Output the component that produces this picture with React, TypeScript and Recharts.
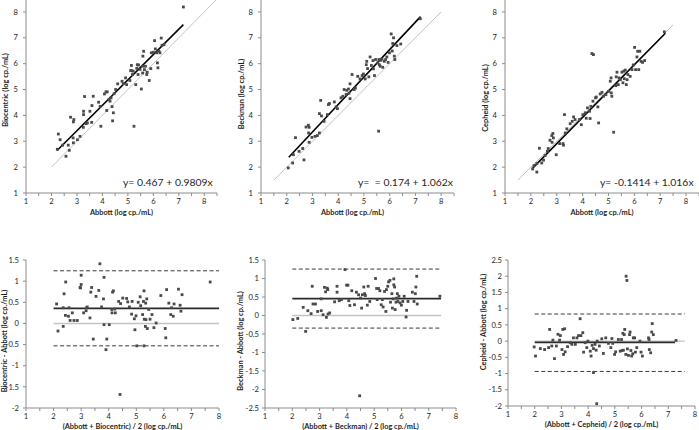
import React from 'react';
import { ScatterChart, Scatter, XAxis, YAxis, ReferenceLine } from 'recharts';

type Pt = [number, number];

const FONT = 'Lato, "Open Sans", Arial, sans-serif';

// top row: Abbott (x) against the other assay (y), log cp./mL
const biocentricVsAbbott: Pt[] = [
  [2.27, 3.28], [2.34, 3.06], [2.23, 2.69], [2.44, 2.85], [2.57, 2.42], [2.66, 2.85], [2.7, 2.65],
  [2.75, 3.93], [2.86, 3.75], [2.88, 3.84], [2.85, 3.13], [2.86, 2.94], [3.02, 3.06], [3.12, 3.19],
  [3.3, 4.73], [3.26, 4.16], [3.26, 4.03], [3.36, 3.68], [3.25, 3.54], [3.41, 3.71], [3.51, 4.16],
  [3.59, 4.38], [3.64, 4.74], [3.58, 3.73], [3.85, 4.51], [3.94, 3.58], [3.91, 4.35], [4.08, 4.83],
  [4.14, 4.91], [4.19, 4.91], [4.17, 4.19], [4.26, 4.61], [4.3, 4.55], [4.34, 4.68], [4.38, 4.34],
  [4.4, 3.79], [4.43, 4.1], [4.46, 4.84], [4.52, 5.0], [4.6, 5.22], [4.77, 5.32], [4.82, 5.23],
  [4.91, 5.45], [4.95, 5.19], [5.08, 5.35], [5.11, 5.73], [5.14, 5.93], [5.15, 5.73], [5.18, 5.58],
  [5.21, 5.71], [5.24, 3.58], [5.31, 5.19], [5.35, 5.82], [5.37, 5.96], [5.42, 5.95], [5.4, 5.58],
  [5.48, 5.78], [5.53, 5.02], [5.58, 5.64], [5.58, 5.9], [5.62, 6.48], [5.59, 6.29], [5.65, 5.77],
  [5.69, 5.9], [5.74, 5.58], [5.76, 5.67], [5.84, 5.35], [5.9, 5.81], [5.92, 6.42], [6.0, 6.44],
  [6.05, 6.89], [6.08, 6.57], [6.13, 6.42], [6.16, 6.03], [6.18, 5.84], [6.22, 6.48], [6.26, 6.42],
  [6.31, 6.99], [6.34, 6.71], [6.42, 6.74], [7.18, 8.19],
];

const beckmanVsAbbott: Pt[] = [
  [2.06, 1.97], [2.23, 2.16], [2.34, 3.14], [2.26, 2.48], [2.48, 2.61], [2.67, 2.28], [2.62, 2.72],
  [2.75, 3.55], [2.84, 3.62], [2.87, 3.54], [2.85, 3.32], [2.87, 2.96], [2.98, 3.15], [3.1, 3.19],
  [3.19, 3.22], [3.27, 3.32], [3.27, 4.07], [3.32, 4.58], [3.35, 3.98], [3.45, 3.77], [3.58, 4.03],
  [3.62, 4.42], [3.66, 4.46], [3.85, 4.52], [3.92, 4.33], [3.97, 4.26], [4.11, 4.68], [4.18, 4.74],
  [4.23, 5.0], [4.31, 4.81], [4.33, 4.97], [4.4, 5.02], [4.42, 4.86], [4.46, 5.22], [4.46, 4.65],
  [4.54, 5.58], [4.62, 5.0], [4.67, 5.06], [4.76, 5.51], [4.85, 5.41], [4.93, 5.54], [4.98, 5.6],
  [5.05, 5.41], [5.09, 5.96], [5.11, 6.09], [5.14, 5.81], [5.19, 5.49], [5.24, 6.26], [5.29, 5.93],
  [5.35, 6.12], [5.37, 5.8], [5.41, 5.54], [5.45, 6.16], [5.57, 3.39], [5.54, 6.03], [5.58, 6.16],
  [5.6, 5.96], [5.63, 5.9], [5.66, 6.13], [5.7, 6.18], [5.73, 5.86], [5.79, 6.09], [5.84, 6.16],
  [5.89, 6.26], [5.94, 6.05], [5.99, 6.42], [6.06, 7.15], [6.1, 6.49], [6.12, 6.78], [6.15, 7.0],
  [6.18, 6.29], [6.2, 6.16], [6.28, 6.7], [6.43, 6.76], [7.19, 7.74],
];

const cepheidVsAbbott: Pt[] = [
  [2.07, 1.93], [2.12, 2.06], [2.23, 1.81], [2.23, 2.14], [2.33, 2.73], [2.42, 2.16], [2.49, 2.27],
  [2.55, 2.45], [2.64, 2.61], [2.67, 2.72], [2.74, 3.04], [2.81, 3.22], [2.85, 3.3], [2.87, 3.13],
  [2.82, 2.96], [2.98, 2.48], [3.11, 2.91], [3.24, 2.91], [3.26, 2.85], [3.3, 4.03], [3.33, 3.32],
  [3.39, 3.48], [3.52, 3.68], [3.6, 3.77], [3.65, 3.94], [3.71, 3.84], [3.88, 3.84], [3.95, 3.64],
  [4.01, 4.03], [4.1, 4.1], [4.14, 3.89], [4.19, 4.29], [4.27, 4.16], [4.29, 3.88], [4.32, 4.35],
  [4.36, 6.39], [4.42, 6.35], [4.4, 4.55], [4.5, 4.68], [4.53, 4.71], [4.59, 4.33], [4.62, 3.71],
  [4.68, 4.83], [4.75, 4.89], [4.81, 4.74], [4.9, 4.8], [5.01, 4.93], [5.07, 5.32], [5.1, 5.45],
  [5.11, 4.87], [5.13, 4.74], [5.2, 3.35], [5.28, 5.15], [5.3, 5.49], [5.33, 5.67], [5.38, 5.19],
  [5.41, 5.45], [5.46, 5.38], [5.52, 5.67], [5.56, 5.26], [5.59, 5.71], [5.61, 5.42], [5.65, 5.75],
  [5.69, 5.19], [5.72, 5.38], [5.75, 5.58], [5.84, 5.51], [5.91, 5.77], [5.96, 5.95], [6.01, 6.63],
  [6.05, 5.77], [6.1, 6.26], [6.13, 6.48], [6.17, 5.77], [6.21, 6.48], [6.26, 6.09], [6.32, 6.05],
  [6.4, 6.12], [7.16, 7.23],
];

// regression [intercept, slope] and the x span it is drawn over
const fitBiocentric = [0.467, 0.9809];
const fitBeckman = [0.174, 1.062];
const fitCepheid = [-0.1414, 1.016];
const fitSpanBiocentric = [2.22, 7.18];
const fitSpanBeckman = [2.08, 7.2];
const fitSpanCepheid = [2.07, 7.2];
// line of identity span
const identityBiocentric = [2, 8.5];
const identityBeckman = [1.5, 8];
const identityCepheid = [1.5, 7.5];

// bottom row: Bland-Altman, mean of both assays (x) vs difference (y)
const diffBiocentric: Pt[] = [
  [2.11, 0.46], [2.16, -0.18], [2.35, -0.07], [2.35, 0.37], [2.38, 0.7], [2.44, 0.98], [2.43, 0.19],
  [2.54, 0.17], [2.56, 0.37], [2.6, 0.07], [2.68, 0.25], [2.74, 0.07], [2.86, 0.07], [2.96, 0.85],
  [3.0, 0.92], [3.0, 1.14], [2.98, 0.84], [3.09, 0.25], [3.18, 0.3], [3.2, 0.37], [3.22, 0.39],
  [3.32, 0.13], [3.35, 0.74], [3.38, 0.85], [3.44, -0.37], [3.54, 0.64], [3.64, 0.78], [3.68, 1.41],
  [3.74, 0.39], [3.81, 0.58], [3.83, 1.09], [3.83, -0.03], [3.9, -0.62], [3.93, -0.37], [4.02, -0.03],
  [4.11, 0.33], [4.12, 0.25], [4.14, 0.74], [4.17, 0.77], [4.22, 0.34], [4.24, 0.25], [4.41, -1.68],
  [4.36, 0.52], [4.43, 0.47], [4.51, 0.6], [4.65, 0.59], [4.69, 0.51], [4.75, 0.39], [4.83, 0.22],
  [4.85, 0.52], [4.93, 0.11], [4.95, -0.15], [4.99, 0.18], [5.02, -0.53], [5.07, 0.5], [5.14, 0.63],
  [5.16, 0.42], [5.23, 0.21], [5.26, 0.52], [5.28, 0.77], [5.29, 0.1], [5.34, 0.48], [5.38, 0.58],
  [5.28, -0.53], [5.33, -0.07], [5.35, 0.09], [5.4, -0.12], [5.45, 0.33], [5.5, 0.1], [5.57, 0.21],
  [5.64, -0.1], [5.72, 0.01], [5.89, 0.66], [6.05, -0.12], [6.07, -0.34], [6.1, 0.8], [6.18, 0.48],
  [6.25, 0.21], [6.28, 0.37], [6.34, 0.17], [6.37, 0.46], [6.53, 0.81], [6.59, 0.43], [6.62, 0.29],
  [6.66, 0.68], [7.68, 0.98],
];

const diffBeckman: Pt[] = [
  [2.02, -0.11], [2.2, -0.08], [2.4, 0.22], [2.49, -0.43], [2.57, 0.13], [2.69, 0.05], [2.73, 0.79],
  [2.76, 0.31], [2.85, 0.31], [2.93, 0.11], [3.06, 0.13], [3.06, 0.45], [3.13, 0.02], [3.18, 0.76],
  [3.22, 0.64], [3.25, -0.05], [3.28, 0.74], [3.3, 0.7], [3.31, 0.04], [3.37, 0.07], [3.55, 0.37],
  [3.64, 0.63], [3.64, 0.79], [3.72, 0.4], [3.8, 0.43], [3.93, 1.24], [3.99, 0.82], [4.04, 0.82],
  [4.07, 0.4], [4.11, 0.27], [4.18, 0.67], [4.28, 0.29], [4.35, 0.63], [4.43, 0.56], [4.47, -2.17],
  [4.5, 0.47], [4.54, 0.2], [4.57, 0.56], [4.62, 0.77], [4.65, 0.59], [4.68, 0.54], [4.75, 0.28],
  [4.78, 0.79], [4.84, 0.38], [5.05, 1.0], [5.09, 0.73], [5.11, 0.43], [5.16, 0.73], [5.21, 0.67],
  [5.26, 0.29], [5.3, 0.43], [5.33, 0.23], [5.38, 0.65], [5.43, 0.11], [5.45, 0.7], [5.5, 0.79],
  [5.53, 0.91], [5.58, 0.95], [5.6, 0.36], [5.65, 0.59], [5.67, 0.2], [5.7, 0.45], [5.72, 0.99],
  [5.72, 0.83], [5.75, 0.77], [5.77, 0.16], [5.8, 0.36], [5.82, 0.47], [5.85, 0.59], [5.87, 0.38],
  [5.91, 0.52], [5.95, 0.34], [6.0, 0.28], [6.05, 0.38], [6.1, 0.52], [6.17, -0.04], [6.19, 0.14],
  [6.24, 0.38], [6.4, 0.63], [6.46, 0.38], [6.51, 0.59], [6.53, 0.77], [6.56, 1.06], [6.58, 0.31],
  [7.41, 0.52],
];

const diffCepheid: Pt[] = [
  [1.98, -0.18], [2.03, -0.46], [2.21, -0.23], [2.37, -0.26], [2.52, -0.2], [2.56, 0.36], [2.64, -0.15],
  [2.68, 0.03], [2.74, -0.54], [2.81, -0.15], [2.87, 0.21], [2.93, 0.03], [2.96, 0.17], [3.02, -0.26],
  [3.05, 0.36], [3.08, -0.41], [3.12, 0.38], [3.14, -0.33], [3.23, -0.17], [3.33, -0.05], [3.39, -0.1],
  [3.45, 0.1], [3.52, -0.1], [3.58, 0.1], [3.64, 0.17], [3.7, 0.69], [3.73, 0.17], [3.8, 0.26],
  [3.83, -0.34], [3.89, -0.05], [3.95, -0.2], [3.99, 0.0], [4.08, -0.31], [4.11, -0.46], [4.15, -0.13],
  [4.2, -0.23], [4.2, -0.97], [4.26, -0.1], [4.3, -0.28], [4.32, -1.93], [4.34, 0.0], [4.42, -0.15],
  [4.51, 0.07], [4.57, -0.38], [4.66, 0.1], [4.76, -0.07], [4.85, -0.2], [4.89, 0.08], [4.92, -0.07],
  [4.99, -0.41], [5.03, -0.33], [5.13, 0.05], [5.2, -0.31], [5.25, 0.05], [5.27, -0.29], [5.3, 0.24],
  [5.32, -0.28], [5.35, 0.2], [5.37, 0.36], [5.41, -0.41], [5.42, 2.0], [5.45, 1.87], [5.47, -0.24],
  [5.51, -0.44], [5.55, 0.2], [5.57, 0.28], [5.6, -0.29], [5.63, -0.46], [5.67, -0.39], [5.69, 0.1],
  [5.74, 0.1], [5.77, -0.34], [5.82, -0.2], [5.94, 0.0], [5.98, -0.34], [6.03, -0.46], [6.26, 0.1],
  [6.28, 0.05], [6.29, -0.26], [6.34, -0.36], [6.38, 0.28], [6.4, 0.54], [6.44, 0.2], [7.29, 0.02],
];

// [bias, upper limit, lower limit]
const limitsBiocentric = [0.355, 1.245, -0.53];
const limitsBeckman = [0.455, 1.255, -0.34];
const limitsCepheid = [-0.04, 0.835, -0.935];
const limitSpanBiocentric = [2, 8];
const limitSpanBeckman = [2, 7.45];
const limitSpanCepheid = [2, 7.62];
const biasSpanCepheid = [2, 7.25];

const topXTicks = [1, 1.5, 2, 2.5, 3, 3.5, 4, 4.5, 5, 5.5, 6, 6.5, 7, 7.5, 8, 8.5];
const topYTicks = [1, 2, 3, 4, 5, 6, 7, 8];
const bottomXTicks = [1, 1.5, 2, 2.5, 3, 3.5, 4, 4.5, 5, 5.5, 6, 6.5, 7, 7.5, 8];
const yTicksBiocentric = [-2, -1.5, -1, -0.5, 0, 0.5, 1, 1.5];
const yTicksBeckman = [-2.5, -2, -1.5, -1, -0.5, 0, 0.5, 1, 1.5];
const yTicksCepheid = [-2, -1.5, -1, -0.5, 0, 0.5, 1, 1.5, 2, 2.5];

const AXIS = '#8c8c8c';
const TXT = '#1e1e1e';

const Dot = (props: any) => (
  <rect x={props.cx - 1.4} y={props.cy - 1.4} width={2.8} height={2.8} fill="#4a4a4a" />
);

const XTitle = (props: any) => {
  const { viewBox, text, dy, dx } = props;
  return (
    <text
      x={viewBox.x + viewBox.width / 2 + (dx || 0)}
      y={viewBox.y + dy}
      textAnchor="middle"
      dominantBaseline="central"
      fontSize={7.4}
      fontWeight="bold"
      fontFamily={FONT}
      fill={TXT}
    >
      {text}
    </text>
  );
};

const YTitle = (props: any) => {
  const { viewBox, text, tx, ty } = props;
  const cx = viewBox.x + tx;
  const cy = viewBox.y + viewBox.height / 2 + ty;
  return (
    <text
      x={0}
      y={0}
      transform={`translate(${cx},${cy}) rotate(-90)`}
      textAnchor="middle"
      dominantBaseline="central"
      fontSize={7.4}
      fontWeight="bold"
      fontFamily={FONT}
      fill={TXT}
    >
      {text}
    </text>
  );
};

interface PanelProps {
  left: number;
  top: number;
  width: number;
  height: number;
  yAxisWidth: number;
  xAxisHeight: number;
  marginTop: number;
  marginRight: number;
  xDomain: number[];
  xTicks: number[];
  yDomain: number[];
  yTicks: number[];
  xTitle: string;
  xTitleDy: number;
  xTitleDx?: number;
  yTitle: string;
  yTitleX: number;
  yTitleDy: number;
  tickGap: number;
  points: Pt[];
  children?: React.ReactNode;
}

const Panel: React.FC<PanelProps> = (p) => {
  const data = p.points.map(([x, y]) => ({ x, y }));
  return (
    <div style={{ position: 'absolute', left: p.left, top: p.top }}>
      <ScatterChart
        width={p.width}
        height={p.height}
        margin={{ top: p.marginTop, right: p.marginRight, bottom: 0, left: 0 }}
      >
        <XAxis
          type="number"
          dataKey="x"
          domain={p.xDomain}
          ticks={p.xTicks}
          interval={0}
          allowDataOverflow
          height={p.xAxisHeight}
          stroke={AXIS}
          tickSize={3}
          tickMargin={3}
          tick={{ fontSize: 7.6, fill: TXT, fontFamily: FONT }}
          tickFormatter={(v: number) => (Number.isInteger(v) ? String(v) : '')}
          label={<XTitle text={p.xTitle} dy={p.xTitleDy} dx={p.xTitleDx} />}
        />
        <YAxis
          type="number"
          dataKey="y"
          domain={p.yDomain}
          ticks={p.yTicks}
          interval={0}
          allowDataOverflow
          width={p.yAxisWidth}
          stroke={AXIS}
          tickSize={3}
          tickMargin={p.tickGap}
          tick={{ fontSize: 7.6, fill: TXT, fontFamily: FONT }}
          label={<YTitle text={p.yTitle} tx={p.yTitleX} ty={p.yTitleDy} />}
        />
        {p.children}
        <Scatter data={data} shape={Dot} isAnimationActive={false} />
      </ScatterChart>
    </div>
  );
};

const fitSegment = (fit: number[], span: number[]) => [
  { x: span[0], y: fit[0] + fit[1] * span[0] },
  { x: span[1], y: fit[0] + fit[1] * span[1] },
];

const identitySegment = (span: number[]) => [
  { x: span[0], y: span[0] },
  { x: span[1], y: span[1] },
];

const flat = (y: number, span: number[]) => [
  { x: span[0], y },
  { x: span[1], y },
];

const topLines = (fit: number[], span: number[], identity: number[]) => [
  <ReferenceLine key="id" segment={identitySegment(identity)} stroke="#c4c4c4" strokeWidth={1} />,
  <ReferenceLine key="fit" segment={fitSegment(fit, span)} stroke="#000" strokeWidth={1.6} />,
];

const bottomLines = (limits: number[], span: number[], biasSpan: number[]) => [
  <ReferenceLine key="zero" segment={flat(0, span)} stroke="#c4c4c4" strokeWidth={1.4} />,
  <ReferenceLine key="up" segment={flat(limits[1], span)} stroke="#3a3a3a" strokeWidth={1} strokeDasharray="4 2.5" />,
  <ReferenceLine key="lo" segment={flat(limits[2], span)} stroke="#3a3a3a" strokeWidth={1} strokeDasharray="4 2.5" />,
  <ReferenceLine key="bias" segment={flat(limits[0], biasSpan)} stroke="#2a2a2a" strokeWidth={1.8} />,
];

const eqStyle = (left: number): React.CSSProperties => ({
  position: 'absolute',
  left,
  top: 176,
  fontSize: 10.4,
  lineHeight: '13px',
  fontFamily: FONT,
  color: TXT,
  whiteSpace: 'pre',
});

export default function App() {
  return (
    <div
      style={{
        position: 'absolute',
        left: 0,
        top: 0,
        width: 699,
        height: 430,
        background: '#fff',
        overflow: 'hidden',
      }}
    >
      <Panel
        left={0} top={-1} width={222} height={220} yAxisWidth={26} xAxisHeight={26}
        marginTop={0} marginRight={5}
        xDomain={[1, 8.5]} xTicks={topXTicks} yDomain={[1, 8.5]} yTicks={topYTicks}
        xTitle="Abbott (log cp./mL)" xTitleDy={19}
        yTitle="Biocentric (log cp./mL)" yTitleX={5} yTitleDy={-6} tickGap={5}
        points={biocentricVsAbbott}
      >
        {topLines(fitBiocentric, fitSpanBiocentric, identityBiocentric)}
      </Panel>
      <Panel
        left={235} top={-1} width={224} height={220} yAxisWidth={26} xAxisHeight={26}
        marginTop={0} marginRight={5}
        xDomain={[1, 8.5]} xTicks={topXTicks} yDomain={[1, 8.5]} yTicks={topYTicks}
        xTitle="Abbott (log cp./mL)" xTitleDy={19} xTitleDx={-5}
        yTitle="Beckman (log cp./mL)" yTitleX={6.5} yTitleDy={-2} tickGap={5}
        points={beckmanVsAbbott}
      >
        {topLines(fitBeckman, fitSpanBeckman, identityBeckman)}
      </Panel>
      <Panel
        left={479} top={-1} width={220} height={220} yAxisWidth={26} xAxisHeight={26}
        marginTop={0} marginRight={0}
        xDomain={[1, 8.5]} xTicks={topXTicks} yDomain={[1, 8.5]} yTicks={topYTicks}
        xTitle="Abbott (log cp./mL)" xTitleDy={19}
        yTitle="Cepheid (log cp./mL)" yTitleX={6} yTitleDy={2} tickGap={5}
        points={cepheidVsAbbott}
      >
        {topLines(fitCepheid, fitSpanCepheid, identityCepheid)}
      </Panel>

      <div style={eqStyle(123)}>y= 0.467 + 0.9809x</div>
      <div style={eqStyle(358)}>y=  = 0.174 + 1.062x</div>
      <div style={eqStyle(600)}>y= -0.1414 + 1.016x</div>

      <Panel
        left={0} top={250} width={224} height={180} yAxisWidth={26} xAxisHeight={22}
        marginTop={10} marginRight={5}
        xDomain={[1, 8]} xTicks={bottomXTicks} yDomain={[-2, 1.5]} yTicks={yTicksBiocentric}
        xTitle="(Abbott + Biocentric) / 2 (log cp./mL)" xTitleDy={18.4}
        yTitle="Biocentric - Abbott (log cp./mL)" yTitleX={4} yTitleDy={7} tickGap={4}
        points={diffBiocentric}
      >
        {bottomLines(limitsBiocentric, limitSpanBiocentric, limitSpanBiocentric)}
      </Panel>
      <Panel
        left={235} top={250} width={226} height={180} yAxisWidth={30} xAxisHeight={22}
        marginTop={10} marginRight={5}
        xDomain={[1, 8]} xTicks={bottomXTicks} yDomain={[-2.5, 1.5]} yTicks={yTicksBeckman}
        xTitle="(Abbott + Beckman) / 2 (log cp./mL)" xTitleDy={18.4}
        yTitle="Beckman - Abbott (log cp./mL)" yTitleX={5} yTitleDy={7} tickGap={3}
        points={diffBeckman}
      >
        {bottomLines(limitsBeckman, limitSpanBeckman, limitSpanBeckman)}
      </Panel>
      <Panel
        left={478} top={250} width={221} height={178} yAxisWidth={30} xAxisHeight={22}
        marginTop={10} marginRight={4}
        xDomain={[1, 8]} xTicks={bottomXTicks} yDomain={[-2, 2.5]} yTicks={yTicksCepheid}
        xTitle="(Abbott + Cepheid) / 2 (log cp./mL)" xTitleDy={18.4}
        yTitle="Cepheid - Abbott (log cp./mL)" yTitleX={5} yTitleDy={-11} tickGap={3}
        points={diffCepheid}
      >
        {bottomLines(limitsCepheid, limitSpanCepheid, biasSpanCepheid)}
      </Panel>
    </div>
  );
}
